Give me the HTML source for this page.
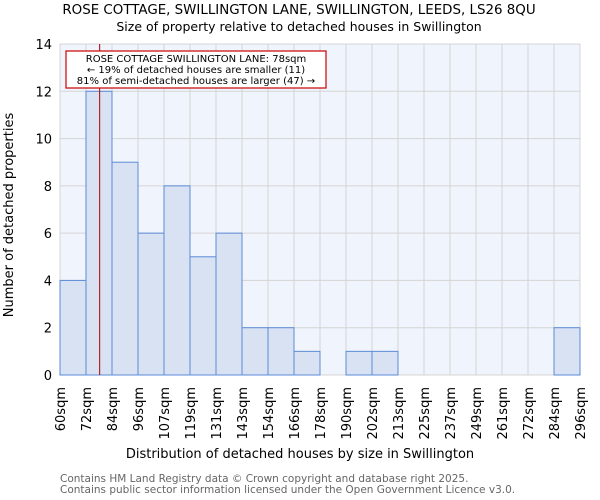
<!DOCTYPE html>
<html><head><meta charset="utf-8"><style>body{margin:0;background:#fff}svg{display:block;font-family:"DejaVu Sans","Liberation Sans",sans-serif}</style></head>
<body>
<svg id="chart" width="600" height="500">
<rect x="60" y="44" width="520" height="331" fill="#f0f4fc"/>
<g id="grid"></g><g id="bars"></g><g id="axes"></g>
<text x="299" y="14" text-anchor="middle" font-size="13.4">ROSE COTTAGE, SWILLINGTON LANE, SWILLINGTON, LEEDS, LS26 8QU</text>
<text x="299" y="31" text-anchor="middle" font-size="12.5">Size of property relative to detached houses in Swillington</text>
<text x="300" y="458" text-anchor="middle" font-size="13">Distribution of detached houses by size in Swillington</text>
<text transform="translate(13,215) rotate(-90)" text-anchor="middle" font-size="13">Number of detached properties</text>
<text x="60" y="482" font-size="10.5" fill="#666">Contains HM Land Registry data © Crown copyright and database right 2025.</text>
<text x="60" y="493" font-size="10.5" fill="#666">Contains public sector information licensed under the Open Government Licence v3.0.</text>
<g>
<rect x="66" y="51" width="260" height="37" fill="#fff" stroke="#c00" stroke-width="1.2"/>
<text x="196" y="62" text-anchor="middle" font-size="10">ROSE COTTAGE SWILLINGTON LANE: 78sqm</text>
<text x="196" y="73" text-anchor="middle" font-size="10">← 19% of detached houses are smaller (11)</text>
<text x="196" y="84" text-anchor="middle" font-size="10">81% of semi-detached houses are larger (47) →</text>
</g>
</svg>
<script>
const binLabels=["60sqm","72sqm","84sqm","96sqm","107sqm","119sqm","131sqm","143sqm","154sqm","166sqm","178sqm","190sqm","202sqm","213sqm","225sqm","237sqm","249sqm","261sqm","272sqm","284sqm","296sqm"];
const counts=[4,12,9,6,8,5,6,2,2,1,0,1,1,0,0,0,0,0,0,2];
const yTicks=[0,2,4,6,8,10,12,14];
const propertySize=78;
const binStart=60, binWidthSqm=11.8;
const NS="http://www.w3.org/2000/svg";
const x0=60,x1=580,yTop=44,yBot=375,yMax=14;
const bw=(x1-x0)/counts.length;
const xi=i=>x0+i*bw;
const y=v=>yBot-(v/yMax)*(yBot-yTop);
const xs=s=>x0+(s-binStart)/binWidthSqm*bw;
function mk(t,a,p){const e=document.createElementNS(NS,t);for(const k in a)e.setAttribute(k,a[k]);p.appendChild(e);return e;}
const grid=document.getElementById('grid'),bars=document.getElementById('bars'),axes=document.getElementById('axes');
yTicks.forEach(v=>{
 const l=mk('line',{x1:x0,x2:x1,y1:y(v),y2:y(v),stroke:'#d4d4d4'},grid);
 
 
 const t=mk('text',{x:x0-8,y:y(v)+5,'text-anchor':'end','font-size':13},axes);
 t.textContent=v;
 
 
});
binLabels.forEach((lab,i)=>{
 const l=mk('line',{x1:xi(i),x2:xi(i),y1:yTop,y2:yBot,stroke:'#d4d4d4'},grid);
 
 
 const t=mk('text',{transform:`translate(${xi(i)+5},${yBot+12}) rotate(-90)`,'text-anchor':'end','font-size':13},axes);
 t.textContent=lab;
 
 
});
counts.forEach((c,i)=>{
 if(c<=0)return;
 const r=mk('rect',{x:xi(i),y:y(c),width:bw,height:yBot-y(c),fill:'#d8e2f3',stroke:'#5b8bd6','stroke-width':1},bars);
 
 
});
const m=mk('line',{x1:xs(propertySize),x2:xs(propertySize),y1:yTop,y2:yBot,stroke:'#a00','stroke-width':1},bars);


</script>
</body></html>
